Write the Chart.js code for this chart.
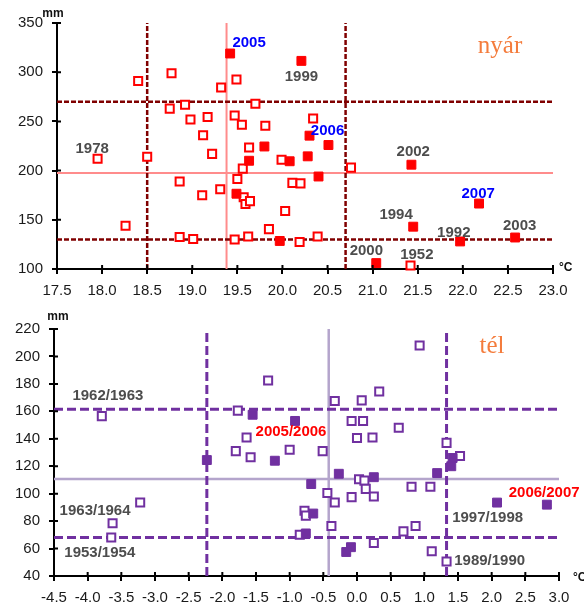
<!DOCTYPE html>
<html>
<head>
<meta charset="utf-8">
<script src="https://cdn.jsdelivr.net/npm/chart.js@4"></script>
<style>
    html, body { margin: 0; padding: 0; background: #fff; }
    canvas { display: block; }
</style>
</head>
<body>
<canvas id="nyarChart" width="584" height="300"></canvas>
<canvas id="telChart" width="584" height="304"></canvas>
<script>
// ========== Nyár: hőmérséklet (°C) és csapadék (mm) ==========
const nyarNyitottT = [17.95, 18.26, 18.40, 18.50, 18.75, 18.77, 18.86, 18.86, 18.92, 18.98, 19.01, 19.11, 19.12, 19.17, 19.22, 19.31, 19.32, 19.47, 19.47, 19.49, 19.50, 19.55, 19.56, 19.57, 19.59, 19.62, 19.63, 19.64, 19.70, 19.81, 19.85, 19.99, 20.03, 20.11, 20.19, 20.20, 20.34, 20.39, 20.76, 21.42];
const nyarNyitottP = [212, 144, 291, 214, 263, 299, 189, 132.5, 267, 252, 130.5, 175, 236, 254.5, 217, 181, 284.5, 256, 130, 292.5, 191.5, 246.5, 202, 173, 166, 133, 223.5, 169, 268, 245.5, 140.5, 211, 159, 187.5, 127.5, 187, 253, 133, 203, 103.5];
const nyarTeliT = [19.42, 19.49, 19.63, 19.80, 19.97, 20.08, 20.21, 20.28, 20.30, 20.40, 20.51, 21.04, 21.43, 21.45, 21.97, 22.18, 22.58];
const nyarTeliP = [319, 176.5, 210, 224.5, 128.5, 209.5, 311.5, 214.5, 235.5, 194, 226, 106, 206, 143, 128, 166.5, 132];
const nyarHatarT = [18.5, 20.7];   // szaggatott függőleges vonalak
const nyarHatarP = [130, 270];     // szaggatott vízszintes vonalak
const nyarAtlagT = 19.38;
const nyarAtlagP = 197.5;
const nyarTengelyT = [17.5, 23.0];
const nyarTengelyP = [100, 350];
// felirat, T, P, szín
const nyarCimkek = [
    ['2005', 19.63, 330, '#0000ff'],
    ['1999', 20.21, 295, '#4d4d4d'],
    ['2006', 20.50, 240.5, '#0000ff'],
    ['1978', 17.89, 222.5, '#4d4d4d'],
    ['2002', 21.45, 219, '#4d4d4d'],
    ['2007', 22.17, 176.5, '#0000ff'],
    ['1994', 21.26, 155, '#4d4d4d'],
    ['1992', 21.90, 137, '#4d4d4d'],
    ['2003', 22.63, 144, '#4d4d4d'],
    ['2000', 20.93, 118.5, '#4d4d4d'],
    ['1952', 21.49, 114.5, '#4d4d4d']
];

// ========== Tél ==========
const telNyitottT = [-3.79, -3.63, -3.65, -3.22, -1.77, -1.64, -1.80, -1.58, -1.32, -1.00, -0.51, -0.33, -0.08, 0.09, 0.07, 0.33, 0.62, 0.00, 0.23, 0.93, 1.33, 1.53, 0.03, 0.11, 0.13, 0.81, 1.09, -0.44, -0.08, 0.25, -0.33, -0.78, -0.76, -0.38, 0.87, 0.69, -0.85, 0.25, 1.11, 1.33];
const telNyitottP = [156.5, 78.5, 68, 93.5, 160.5, 141, 131, 126.5, 182.5, 132, 131, 167.5, 153, 153, 168, 174.5, 148, 140.5, 141, 208, 137, 127.5, 110.5, 109.5, 103.5, 105, 105, 100.5, 97.5, 98, 93.5, 87.5, 84, 76.5, 76.5, 72.5, 70, 64, 58, 50.5];
const telTeliT = [-2.23, -1.55, -1.22, -0.92, -0.27, 0.25, 1.19, 1.42, 1.40, -0.68, 2.08, 2.82, -0.65, -0.76, -0.09, -0.16];
const telTeliP = [124.5, 157.5, 124, 153, 114.5, 112, 115, 126, 120, 107, 93.5, 92, 85.5, 71, 61, 57.5];
const telHatarT = [-2.23, 1.33];
const telHatarP = [68, 161.5];
const telAtlagT = -0.42;
const telAtlagP = 110.7;
const telTengelyT = [-4.5, 3.0];
const telTengelyP = [40, 220];
const telCimkek = [
    ['1962/1963', -3.70, 171, '#4d4d4d'],
    ['2005/2006', -0.98, 145, '#ff0000'],
    ['1963/1964', -3.89, 87.5, '#4d4d4d'],
    ['1953/1954', -3.82, 57, '#4d4d4d'],
    ['2006/2007', 2.78, 100.5, '#ff0000'],
    ['1997/1998', 1.94, 82.3, '#4d4d4d'],
    ['1989/1990', 1.97, 51, '#4d4d4d']
];

const FONT = '"Liberation Sans", Arial, sans-serif';

function pontok(ts, ps) {
    return ts.map((t, i) => ({ x: t, y: ps[i] }));
}

function vonal(x1, y1, x2, y2, szin, vastag, dash, order) {
    return {
        data: [{ x: x1, y: y1 }, { x: x2, y: y2 }],
        showLine: true,
        borderColor: szin,
        borderWidth: vastag,
        borderDash: dash,
        pointRadius: 0,
        clip: 4,
        order: order
    };
}

// ========== Kiegészítő rajz: belső osztásjelek, feliratok ==========
const kiegeszito = {
    id: 'kiegeszito',
    afterDatasetsDraw(chart, args, o) {
        const { ctx, chartArea: a } = chart;
        const x = chart.scales.x, y = chart.scales.y;
        ctx.save();

        ctx.strokeStyle = '#000';
        ctx.lineWidth = 2;
        ctx.beginPath();
        x.ticks.forEach(t => {
            const px = x.getPixelForValue(t.value);
            ctx.moveTo(px, a.bottom);
            ctx.lineTo(px, a.bottom - 4);
        });
        y.ticks.forEach(t => {
            const py = y.getPixelForValue(t.value);
            ctx.moveTo(a.left, py);
            ctx.lineTo(a.left + 4, py);
        });
        ctx.stroke();

        ctx.textAlign = 'center';
        ctx.textBaseline = 'middle';
        ctx.font = 'bold 15px ' + FONT;
        o.cimkek.forEach(c => {
            ctx.fillStyle = c[3];
            ctx.fillText(c[0], x.getPixelForValue(c[1]), y.getPixelForValue(c[2]));
        });

        ctx.fillStyle = '#111';
        ctx.font = 'bold 12px ' + FONT;
        ctx.fillText('mm', a.left + o.mm[0], a.top + o.mm[1]);
        ctx.textAlign = 'left';
        ctx.fillText('°C', a.right + o.fok[0], a.bottom + o.fok[1]);

        ctx.textAlign = 'center';
        ctx.fillStyle = '#f47c3c';
        ctx.font = '25px "Liberation Serif", serif';
        ctx.fillText(o.cim, o.cimPos[0], o.cimPos[1]);

        ctx.restore();
    }
};

function tengely(min, max, lepes, meret, vizszintes) {
    return {
        type: 'linear',
        min: min,
        max: max,
        ticks: {
            stepSize: lepes,
            autoSkip: false,
            maxRotation: 0,
            color: '#1a1a1a',
            padding: vizszintes ? 8 : 9,
            font: { family: FONT, size: 15 },
            callback: v => vizszintes ? v.toFixed(1) : v
        },
        grid: { display: true, drawOnChartArea: false, drawTicks: true, tickLength: 5, color: '#000', lineWidth: 2 },
        border: { display: true, color: '#000', width: 2 },
        afterFit: s => { if (vizszintes) s.height = meret; else s.width = meret; }
    };
}

function abra(id, d) {
    const a = d.atlag, h = d.hatar;
    const [tMin, tMax] = d.tT, [pMin, pMax] = d.tP;
    new Chart(document.getElementById(id).getContext('2d'), {
        type: 'scatter',
        data: {
            datasets: [
                { data: pontok(d.nyT, d.nyP), pointStyle: 'rect', pointRadius: 5.7, borderWidth: 2, borderColor: d.szin, backgroundColor: '#fff', clip: false, order: 1 },
                { data: pontok(d.teT, d.teP), pointStyle: 'rect', pointRadius: 6.3, borderWidth: 1, borderColor: d.szin, backgroundColor: d.szin, clip: false, order: 0 },
                vonal(a[0], pMin, a[0], pMax, d.atlagSzin, d.atlagVastag, [], 3),
                vonal(tMin, a[1], tMax, a[1], d.atlagSzin, d.atlagVastag, [], 3),
                vonal(h.t[0], pMin, h.t[0], pMax, d.vonalSzin, d.vonalVastag, d.dash, 2),
                vonal(h.t[1], pMin, h.t[1], pMax, d.vonalSzin, d.vonalVastag, d.dash, 2),
                vonal(tMin, h.p[0], tMax, h.p[0], d.vonalSzin, d.vonalVastag, d.dash, 2),
                vonal(tMin, h.p[1], tMax, h.p[1], d.vonalSzin, d.vonalVastag, d.dash, 2)
            ]
        },
        options: {
            responsive: false,
            animation: false,
            layout: { padding: d.padding },
            scales: {
                x: tengely(tMin, tMax, 0.5, d.xMagas, true),
                y: tengely(pMin, pMax, d.pLepes, d.ySzeles, false)
            },
            plugins: {
                legend: { display: false },
                tooltip: { enabled: false },
                kiegeszito: d.kieg
            }
        },
        plugins: [kiegeszito]
    });
}

abra('nyarChart', {
    nyT: nyarNyitottT, nyP: nyarNyitottP, teT: nyarTeliT, teP: nyarTeliP,
    atlag: [nyarAtlagT, nyarAtlagP], hatar: { t: nyarHatarT, p: nyarHatarP },
    tT: nyarTengelyT, tP: nyarTengelyP, pLepes: 50,
    szin: '#ff0000', atlagSzin: '#ff8c8c', atlagVastag: 2,
    vonalSzin: '#800000', vonalVastag: 2.5, dash: [5, 2],
    padding: { top: 23, right: 31, left: 0, bottom: 0 }, xMagas: 31, ySzeles: 57,
    kieg: { cimkek: nyarCimkek, mm: [-4, -9], fok: [6, -1], cim: 'nyár', cimPos: [500, 46] }
});

abra('telChart', {
    nyT: telNyitottT, nyP: telNyitottP, teT: telTeliT, teP: telTeliP,
    atlag: [telAtlagT, telAtlagP], hatar: { t: telHatarT, p: telHatarP },
    tT: telTengelyT, tP: telTengelyP, pLepes: 20,
    szin: '#7030a0', atlagSzin: '#b4a5cc', atlagVastag: 2.5,
    vonalSzin: '#7030a0', vonalVastag: 3, dash: [9, 4],
    padding: { top: 29, right: 25, left: 0, bottom: 0 }, xMagas: 28, ySzeles: 54,
    kieg: { cimkek: telCimkek, mm: [4, -12], fok: [14, 2], cim: 'tél', cimPos: [492, 46] }
});
</script>
</body>
</html>
